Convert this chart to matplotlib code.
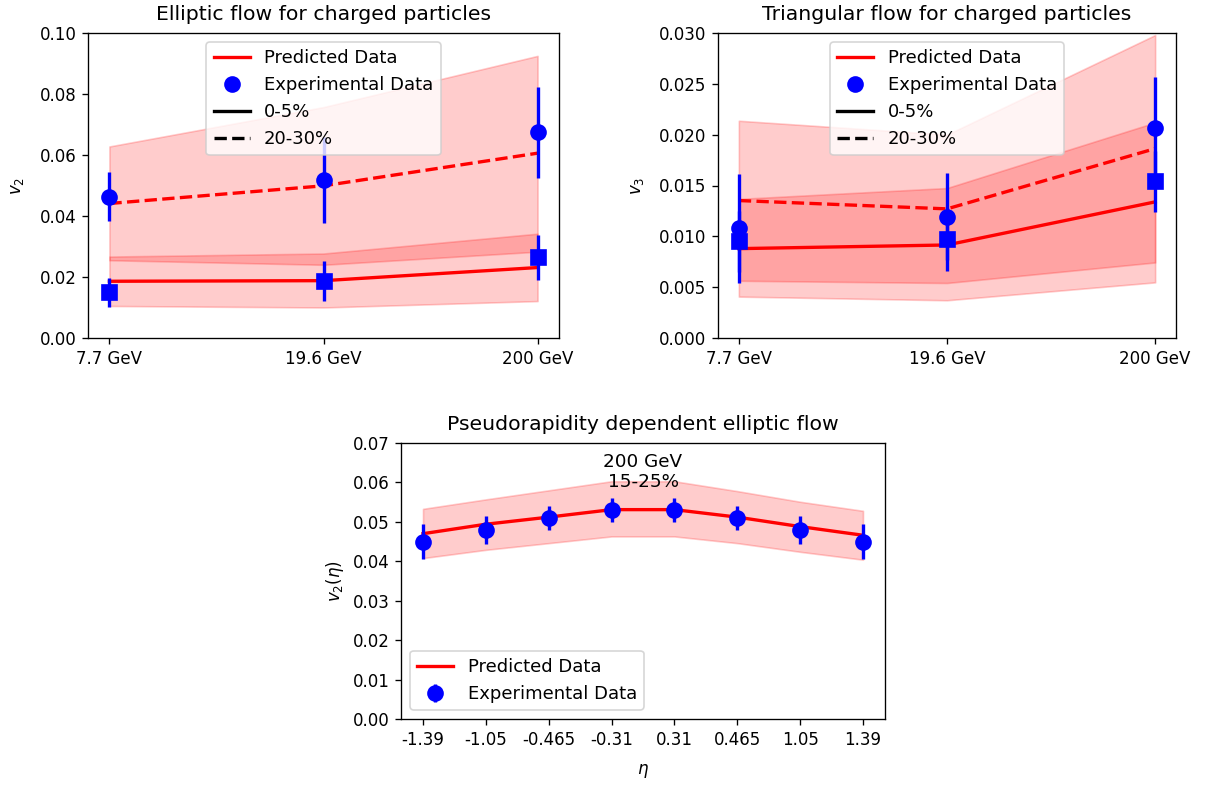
import matplotlib
matplotlib.use("Agg")
import matplotlib.pyplot as plt
from matplotlib.lines import Line2D

# ---- collision energies ----
energies = ["7.7 GeV", "19.6 GeV", "200 GeV"]

# elliptic flow v2: model curves and uncertainty bands
v2_pred_0_5 = [0.0186, 0.0188, 0.0231]
v2_band_0_5_lo = [0.0105, 0.0100, 0.0121]
v2_band_0_5_hi = [0.0267, 0.0277, 0.0342]
v2_pred_20_30 = [0.0441, 0.0499, 0.0606]
v2_band_20_30_lo = [0.0255, 0.0240, 0.0283]
v2_band_20_30_hi = [0.0628, 0.0757, 0.0925]
# elliptic flow v2: measurements
v2_exp_0_5 = [0.0150, 0.0188, 0.0264]
v2_err_0_5 = [0.0047, 0.0066, 0.0074]
v2_exp_20_30 = [0.0463, 0.0518, 0.0674]
v2_err_20_30 = [0.0080, 0.0140, 0.0150]

# triangular flow v3: model curves and uncertainty bands
v3_pred_0_5 = [0.00879, 0.00915, 0.01339]
v3_band_0_5_lo = [0.00407, 0.00371, 0.00547]
v3_band_0_5_hi = [0.01368, 0.01475, 0.02120]
v3_pred_20_30 = [0.01352, 0.01270, 0.01863]
v3_band_20_30_lo = [0.00563, 0.00541, 0.00743]
v3_band_20_30_hi = [0.02137, 0.02000, 0.02980]
# triangular flow v3: measurements
v3_exp_0_5 = [0.00954, 0.00970, 0.01541]
v3_err_0_5 = [0.0030, 0.0031, 0.0030]
v3_exp_20_30 = [0.01078, 0.01195, 0.02065]
v3_err_20_30 = [0.0054, 0.0043, 0.0050]

# pseudorapidity dependence at 200 GeV, 15-25%
eta_labels = ["-1.39", "-1.05", "-0.465", "-0.31", "0.31", "0.465", "1.05", "1.39"]
v2eta_pred = [0.0470, 0.0494, 0.0512, 0.0531, 0.0531, 0.0512, 0.0488, 0.0466]
v2eta_band_lo = [0.0408, 0.0429, 0.0446, 0.0463, 0.0463, 0.0446, 0.0424, 0.0404]
v2eta_band_hi = [0.0533, 0.0557, 0.0580, 0.0603, 0.0603, 0.0578, 0.0551, 0.0528]
v2eta_exp = [0.045, 0.048, 0.051, 0.053, 0.053, 0.051, 0.048, 0.045]
v2eta_err = [0.0045, 0.0035, 0.0030, 0.0030, 0.0030, 0.0030, 0.0035, 0.0045]

W, H = 1210, 787
fig = plt.figure(figsize=(W / 120, H / 120), dpi=120)


def px_axes(x0, y0, x1, y1):
    return fig.add_axes([x0 / W, 1 - y1 / H, (x1 - x0) / W, (y1 - y0) / H])


ax1 = px_axes(88, 33, 559, 338)
ax2 = px_axes(718, 33, 1176, 338)
ax3 = px_axes(401, 443, 885, 719)

xpos = list(range(len(energies)))


def energy_panel(ax, p05, lo05, hi05, p2030, lo2030, hi2030,
                 e05, er05, e2030, er2030, title, ylabel, ymax):
    ax.fill_between(xpos, lo05, hi05, color="red", alpha=0.2)
    ax.fill_between(xpos, lo2030, hi2030, color="red", alpha=0.2)
    ax.plot(xpos, p05, color="red", lw=2, ls="-")
    ax.plot(xpos, p2030, color="red", lw=2, ls="--")
    ax.errorbar(xpos, e2030, yerr=er2030, fmt="o", color="blue",
                markersize=9, elinewidth=2)
    ax.errorbar(xpos, e05, yerr=er05, fmt="s", color="blue",
                markersize=9, elinewidth=2)
    ax.set_xticks(xpos)
    ax.set_xticklabels(energies)
    ax.set_ylim(0, ymax)
    ax.set_title(title, fontsize=12.2, pad=8)
    ax.set_ylabel(ylabel, labelpad=8)
    handles = [
        Line2D([], [], color="red", lw=2, label="Predicted Data"),
        Line2D([], [], color="blue", marker="o", ls="none", markersize=9,
               label="Experimental Data"),
        Line2D([], [], color="black", lw=2, ls="-", label="0-5%"),
        Line2D([], [], color="black", lw=2, ls="--", label="20-30%"),
    ]
    ax.legend(handles=handles, loc="upper center", fontsize=10.8)


energy_panel(ax1, v2_pred_0_5, v2_band_0_5_lo, v2_band_0_5_hi,
             v2_pred_20_30, v2_band_20_30_lo, v2_band_20_30_hi,
             v2_exp_0_5, v2_err_0_5, v2_exp_20_30, v2_err_20_30,
             "Elliptic flow for charged particles", "$v_2$", 0.10)
energy_panel(ax2, v3_pred_0_5, v3_band_0_5_lo, v3_band_0_5_hi,
             v3_pred_20_30, v3_band_20_30_lo, v3_band_20_30_hi,
             v3_exp_0_5, v3_err_0_5, v3_exp_20_30, v3_err_20_30,
             "Triangular flow for charged particles", "$v_3$", 0.030)

eta_pos = list(range(len(eta_labels)))
ax3.fill_between(eta_pos, v2eta_band_lo, v2eta_band_hi, color="red", alpha=0.2)
ax3.plot(eta_pos, v2eta_pred, color="red", lw=2, label="Predicted Data")
ax3.errorbar(eta_pos, v2eta_exp, yerr=v2eta_err, fmt="o", color="blue",
             markersize=9, elinewidth=2, label="Experimental Data")
ax3.set_xticks(eta_pos)
ax3.set_xticklabels(eta_labels)
ax3.set_ylim(0, 0.07)
ax3.set_title("Pseudorapidity dependent elliptic flow", fontsize=12.2, pad=8)
ax3.set_xlabel(r"$\eta$", labelpad=8)
ax3.set_ylabel(r"$v_2(\eta)$")
ax3.text(0.5, 0.965, "200 GeV\n15-25%", transform=ax3.transAxes,
         ha="center", va="top", fontsize=11)
ax3.legend(loc="lower left", fontsize=10.8)

fig.savefig("out.png", dpi=120)
